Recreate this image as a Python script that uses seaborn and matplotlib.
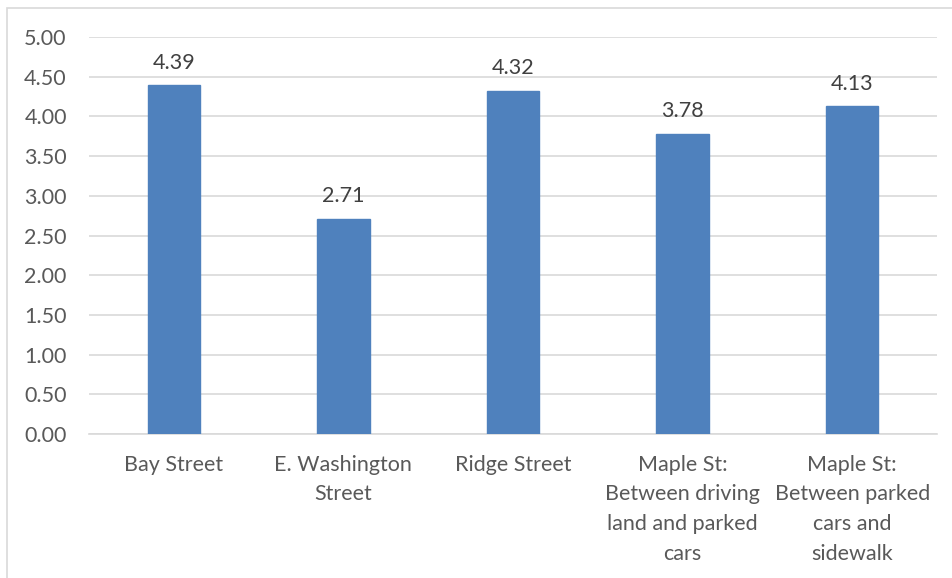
import matplotlib
matplotlib.use("Agg")
import matplotlib.pyplot as plt
import matplotlib.patches as mpatches
import seaborn as sns
import pandas as pd

categories = ["Bay Street", "E. Washington\nStreet", "Ridge Street",
              "Maple St:\nBetween driving\nland and parked\ncars",
              "Maple St:\nBetween parked\ncars and\nsidewalk"]
values = [4.39, 2.71, 4.32, 3.78, 4.13]
yticks = [0, 0.5, 1.0, 1.5, 2.0, 2.5, 3.0, 3.5, 4.0, 4.5, 5.0]

sns.set_style("white")
plt.rcParams['font.family'] = ['Lato', 'DejaVu Sans']
TXT = "#595959"
FS = 15.5

fig = plt.figure(figsize=(9.52, 5.78), dpi=100)
ax = fig.add_axes([89/952, 1-434/578, (937-89)/952, (434-37)/578])

df = pd.DataFrame({"cat": categories, "val": values})
sns.barplot(data=df, x="cat", y="val", color="#4F81BD", saturation=1,
            width=0.31, ax=ax, zorder=3)
for p in ax.patches:
    p.set_edgecolor("#4F81BD")

for i, v in enumerate(values):
    ax.annotate(f"{v:.2f}", (i, v), xytext=(0, 9), textcoords="offset points",
                ha="center", va="bottom", fontsize=FS, color="#404040")

ax.set_ylim(0, 5)
ax.set_yticks(yticks)
ax.set_yticklabels([f"{t:.2f}" for t in yticks])
ax.yaxis.grid(True, color="#D9D9D9", linewidth=1.2, zorder=0)
ax.set_axisbelow(True)
for s in ["top", "right", "left"]:
    ax.spines[s].set_visible(False)
ax.spines["bottom"].set_color("#D9D9D9")
ax.spines["bottom"].set_linewidth(1.2)
ax.tick_params(axis="both", length=0, labelsize=FS, colors=TXT)
ax.tick_params(axis="y", pad=16)
ax.tick_params(axis="x", pad=15)
for lbl in ax.get_xticklabels():
    lbl.set_linespacing(1.6)
ax.set_xlabel("")
ax.set_ylabel("")
ax.set_xlim(-0.5, 4.5)

fig.patches.append(mpatches.Rectangle((7/952, -0.1), 2, 1.1 - 8/578,
                                      transform=fig.transFigure, fill=False,
                                      edgecolor="#D9D9D9", linewidth=1.2))

fig.savefig("out.png", dpi=100)
